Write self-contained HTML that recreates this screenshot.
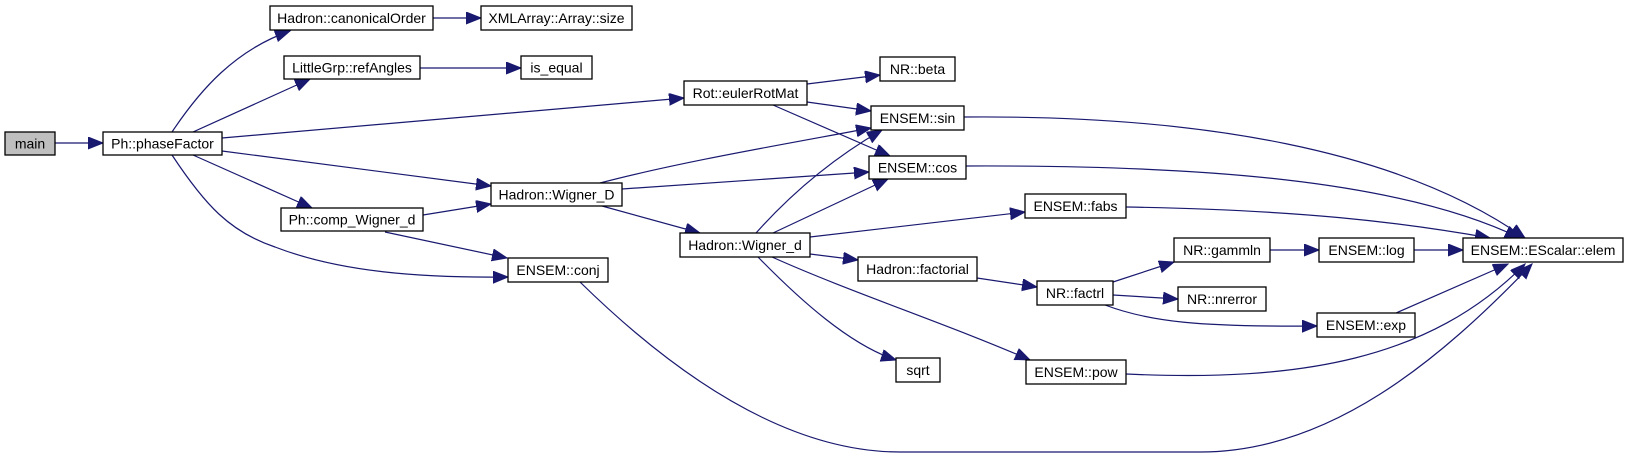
<!DOCTYPE html>
<html><head><meta charset="utf-8"><style>
html,body{margin:0;padding:0;background:#fff;}
svg{display:block;}
text{font-family:"Liberation Sans",Arial,sans-serif;font-size:14px;fill:#000;text-anchor:middle;dominant-baseline:central;}
rect{fill:#fff;stroke:#000;stroke-width:1.3;}
path{fill:none;stroke:#191970;stroke-width:1.2;}
</style></head><body>
<svg width="1628" height="457" viewBox="0 0 1628 457" xmlns="http://www.w3.org/2000/svg">
<defs><marker id="a" markerUnits="userSpaceOnUse" markerWidth="18" markerHeight="14" refX="15" refY="6" orient="auto"><polygon points="0,0 15,6 0,12" fill="#191970" stroke="#191970"/></marker></defs>
<g marker-end="url(#a)">
<path d="M55,143 L103,143"/>
<path d="M172,132 C200,90 235,50 290,31"/>
<path d="M193,132 L310,79"/>
<path d="M222,138 L684,98"/>
<path d="M222,151 L491,186"/>
<path d="M193,155 L312,208"/>
<path d="M172,155 C205,205 230,232 275,247 C340,272 420,278 508,277"/>
<path d="M423,215 L491,204"/>
<path d="M385,232 L507,258"/>
<path d="M433,18 L481,18"/>
<path d="M420,68 L521,68"/>
<path d="M807,84 L880,75"/>
<path d="M807,102 L871,111"/>
<path d="M773,105 L890,156"/>
<path d="M600,183 C680,162 780,145 871,128"/>
<path d="M622,189 L869,172"/>
<path d="M602,206 L700,233"/>
<path d="M756,233 C790,195 830,160 882,130"/>
<path d="M773,233 L888,179"/>
<path d="M810,237 L1025,212"/>
<path d="M810,254 L858,260"/>
<path d="M758,257 C800,300 850,345 896,360"/>
<path d="M772,257 C850,292 950,325 1030,360"/>
<path d="M977,278 L1037,287"/>
<path d="M1113,282 L1174,262"/>
<path d="M1113,295 L1178,299"/>
<path d="M1105,305 C1150,322 1200,327 1317,326"/>
<path d="M1270,250 L1319,250"/>
<path d="M1414,250 L1463,250"/>
<path d="M1396,313 L1508,264"/>
<path d="M964,117 C1200,115 1400,150 1525,238"/>
<path d="M966,166 C1200,165 1400,180 1520,238"/>
<path d="M1126,207 C1300,210 1400,222 1490,238"/>
<path d="M1126,374 C1300,382 1430,360 1525,264"/>
<path d="M580,282 C680,380 790,452 900,452 L1200,452 C1330,452 1440,360 1532,264"/>
</g>
<rect x="5" y="132" width="50" height="23" style="fill:#bfbfbf"/><text x="30" y="143.5">main</text>
<rect x="103" y="132" width="119" height="23"/><text x="162.5" y="143.5">Ph::phaseFactor</text>
<rect x="270" y="6" width="163" height="24"/><text x="351.5" y="18">Hadron::canonicalOrder</text>
<rect x="481" y="6" width="151" height="24"/><text x="556.5" y="18">XMLArray::Array::size</text>
<rect x="284" y="56" width="136" height="23"/><text x="352" y="67.5">LittleGrp::refAngles</text>
<rect x="521" y="56" width="71" height="23"/><text x="556.5" y="67.5">is_equal</text>
<rect x="684" y="81" width="123" height="24"/><text x="745.5" y="93">Rot::eulerRotMat</text>
<rect x="880" y="57" width="75" height="24"/><text x="917.5" y="69">NR::beta</text>
<rect x="871" y="106" width="93" height="24"/><text x="917.5" y="118">ENSEM::sin</text>
<rect x="869" y="156" width="97" height="23"/><text x="917.5" y="167.5">ENSEM::cos</text>
<rect x="491" y="183" width="131" height="23"/><text x="556.5" y="194.5">Hadron::Wigner_D</text>
<rect x="281" y="208" width="142" height="23"/><text x="352" y="219.5">Ph::comp_Wigner_d</text>
<rect x="1025" y="194" width="101" height="24"/><text x="1075.5" y="206">ENSEM::fabs</text>
<rect x="680" y="233" width="130" height="24"/><text x="745" y="245">Hadron::Wigner_d</text>
<rect x="508" y="258" width="100" height="24"/><text x="558" y="270">ENSEM::conj</text>
<rect x="858" y="257" width="119" height="24"/><text x="917.5" y="269">Hadron::factorial</text>
<rect x="1174" y="238" width="96" height="24"/><text x="1222" y="250">NR::gammln</text>
<rect x="1319" y="238" width="95" height="24"/><text x="1366.5" y="250">ENSEM::log</text>
<rect x="1463" y="238" width="160" height="24"/><text x="1543" y="250">ENSEM::EScalar::elem</text>
<rect x="1037" y="281" width="76" height="24"/><text x="1075" y="293">NR::factrl</text>
<rect x="1178" y="287" width="88" height="24"/><text x="1222" y="299">NR::nrerror</text>
<rect x="1317" y="313" width="98" height="24"/><text x="1366" y="325">ENSEM::exp</text>
<rect x="896" y="358" width="44" height="24"/><text x="918" y="370">sqrt</text>
<rect x="1026" y="360" width="100" height="24"/><text x="1076" y="372">ENSEM::pow</text>
</svg>
</body></html>
